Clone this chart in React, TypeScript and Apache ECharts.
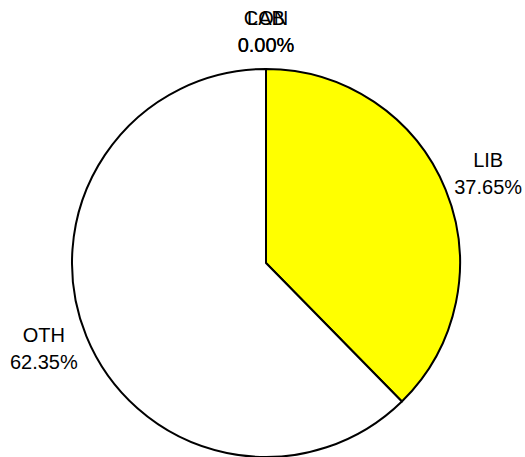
import React, { useEffect, useRef } from "react";
import * as echarts from "echarts";

const names = ["CON", "LAB", "LIB", "OTH"];
const values = [0, 0, 37.65, 62.35];
const colors = ["#0000ff", "#ff0000", "#ffff00", "#ffffff"];

const CX = 266;
const CY = 263;
const R = 194;

export default function App() {
  const ref = useRef<HTMLDivElement>(null);
  useEffect(() => {
    if (!ref.current) return;
    const chart = echarts.init(ref.current, undefined, { renderer: "svg" });
    chart.setOption({
      animation: false,
      backgroundColor: "#ffffff",
      series: [
        {
          type: "pie",
          center: [CX, CY],
          radius: R,
          startAngle: 90,
          clockwise: true,
          stillShowZeroSum: true,
          minShowLabelAngle: 0,
          avoidLabelOverlap: false,
          percentPrecision: 2,
          data: names.map((n, i) => ({
            name: n,
            value: values[i],
            itemStyle: { color: colors[i] },
          })),
          itemStyle: { borderColor: "#000000", borderWidth: 2 },
          label: {
            show: true,
            position: "outside",
            formatter: (p: any) => `${p.name}\n${Number(p.percent).toFixed(2)}%`,
            color: "#000000",
            fontFamily: "'Liberation Sans', Arial, sans-serif",
            fontSize: 20,
            lineHeight: 27,
          },
          labelLine: {
            show: true,
            length: 40,
            length2: 0,
            smooth: false,
            lineStyle: { width: 0, opacity: 0 },
          },
          labelLayout: (p: any) => {
            const pts = p.labelLinePoints;
            if (!pts) return { hideOverlap: false };
            const a = pts[0];
            const b = pts[1];
            const dx = b[0] - a[0];
            const dy = b[1] - a[1];
            const len = Math.sqrt(dx * dx + dy * dy) || 1;
            const ux = dx / len;
            const uy = dy / len;
            const ox = a[0] - ux * R;
            const oy = a[1] - uy * R;
            return {
              x: ox + ux * 240,
              y: oy + uy * 230 - 2,
              align: "center",
              verticalAlign: "middle",
              hideOverlap: false,
            };
          },
          emphasis: { disabled: true },
        },
      ],
    });
    return () => chart.dispose();
  }, []);
  return (
    <div
      ref={ref}
      style={{ position: "fixed", left: 0, top: 0, width: 525, height: 457 }}
    />
  );
}
